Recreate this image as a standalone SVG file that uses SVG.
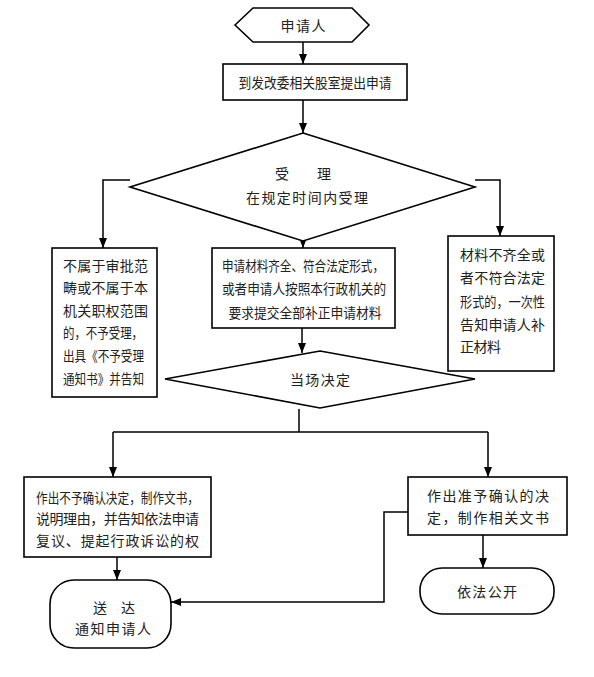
<svg xmlns="http://www.w3.org/2000/svg" width="594" height="677" viewBox="0 0 594 677">
<style>
.s{fill:#fff;stroke:#000;stroke-width:1.6}
.c{fill:none;stroke:#000;stroke-width:1.5}
text{font-family:"Noto Sans CJK SC","Noto Sans",sans-serif;font-size:14px;fill:#222;dominant-baseline:central}
.m{text-anchor:middle}
</style>
<defs>
<marker id="a" markerUnits="userSpaceOnUse" markerWidth="10" markerHeight="10" refX="10" refY="4" orient="auto">
<path d="M0,0 L10,4 L0,8 z" fill="#000"/>
</marker>
</defs>
<rect width="594" height="677" fill="#fff"/>
<g id="connectors">
<path class="c" d="M303,42 V64" marker-end="url(#a)"/>
<path class="c" d="M303,100 V133" marker-end="url(#a)"/>
<path class="c" d="M130,180 H103 V248" marker-end="url(#a)"/>
<path class="c" d="M475,180 H500 V236" marker-end="url(#a)"/>
<path class="c" d="M303,236 V248" marker-end="url(#a)"/>
<path class="c" d="M302,328 V353" marker-end="url(#a)"/>
<path class="c" d="M299,409 V432 M113,432 H488"/>
<path class="c" d="M113,432 V477" marker-end="url(#a)"/>
<path class="c" d="M488,432 V477" marker-end="url(#a)"/>
<path class="c" d="M117,557 V580" marker-end="url(#a)"/>
<path class="c" d="M483,535 V568" marker-end="url(#a)"/>
<path class="c" d="M408,512 H384 V602 H171" marker-end="url(#a)"/>
</g>
<g id="n-applicant">
<polygon class="s" points="235,25 253,8 352,8 369,25 352,42 253,42"/>
<text class="m" x="303" y="25" font-size="15" textLength="45">申请人</text>
</g>
<g id="n-submit">
<rect class="s" x="223" y="64" width="184" height="36"/>
<text class="m" x="315" y="82" textLength="153" lengthAdjust="spacingAndGlyphs">到发改委相关股室提出申请</text>
</g>
<g id="n-accept">
<polygon class="s" points="303,133 475,187 303,241 130,187"/>
<text class="m" x="303" y="173" font-size="15">受　　理</text>
<text class="m" x="307" y="197" font-size="15" textLength="122">在规定时间内受理</text>
</g>
<g id="n-reject">
<rect class="s" x="52" y="248" width="105" height="149"/>
<text x="63" y="265" textLength="85">不属于审批范</text>
<text x="63" y="287" textLength="85">畴或不属于本</text>
<text x="63" y="310" textLength="85">机关职权范围</text>
<text x="63" y="332" textLength="80" lengthAdjust="spacingAndGlyphs">的，不予受理，</text>
<text x="63" y="355" textLength="81" lengthAdjust="spacingAndGlyphs">出具《不予受理</text>
<text x="63" y="378" textLength="81" lengthAdjust="spacingAndGlyphs">通知书》并告知</text>
</g>
<g id="n-complete">
<rect class="s" x="212" y="248" width="183" height="80"/>
<text class="m" x="303" y="265" textLength="162" lengthAdjust="spacingAndGlyphs">申请材料齐全、符合法定形式，</text>
<text class="m" x="304" y="288" textLength="164" lengthAdjust="spacingAndGlyphs">或者申请人按照本行政机关的</text>
<text class="m" x="305" y="312" textLength="153" lengthAdjust="spacingAndGlyphs">要求提交全部补正申请材料</text>
</g>
<g id="n-incomplete">
<rect class="s" x="448" y="236" width="106" height="135"/>
<text x="460" y="254" textLength="85">材料不齐全或</text>
<text x="460" y="277" textLength="85">者不符合法定</text>
<text x="460" y="301" textLength="85" lengthAdjust="spacingAndGlyphs">形式的，一次性</text>
<text x="460" y="324" textLength="85">告知申请人补</text>
<text x="460" y="346" textLength="41">正材料</text>
</g>
<g id="n-decide">
<polygon class="s" points="320,351 475,379 320,408 165,379"/>
<text class="m" x="320" y="379" font-size="15" textLength="60">当场决定</text>
</g>
<g id="n-deny">
<rect class="s" x="24" y="477" width="187" height="80"/>
<text x="36" y="497" font-size="15" textLength="163" lengthAdjust="spacingAndGlyphs">作出不予确认决定，制作文书，</text>
<text x="36" y="518" font-size="15" textLength="163">说明理由，并告知依法申请</text>
<text x="36" y="540" font-size="15" textLength="163">复议、提起行政诉讼的权</text>
</g>
<g id="n-approve">
<rect class="s" x="408" y="477" width="159" height="58"/>
<text x="427" y="495" font-size="15" textLength="122">作出准予确认的决</text>
<text x="427" y="517" font-size="15" textLength="122">定，制作相关文书</text>
</g>
<g id="n-deliver">
<rect class="s" x="50" y="580" width="121" height="68" rx="24" ry="24"/>
<text class="m" x="114" y="607" font-size="15">送　达</text>
<text class="m" x="113" y="628" font-size="15" textLength="76">通知申请人</text>
</g>
<g id="n-publish">
<rect class="s" x="420" y="568" width="134" height="46" rx="22" ry="22"/>
<text class="m" x="487" y="591" font-size="15" textLength="60">依法公开</text>
</g>
</svg>
